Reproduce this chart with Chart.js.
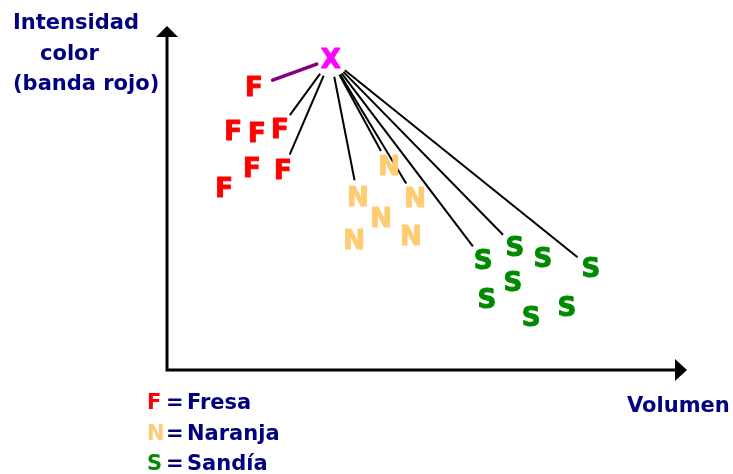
<!DOCTYPE html>
<html>
<head>
<meta charset="utf-8">
<script src="https://cdn.jsdelivr.net/npm/chart.js@4.4.1/dist/chart.umd.min.js"></script>
<style>
  html, body { margin: 0; padding: 0; background: #fff; }
  #wrap { width: 733px; height: 474px; }
</style>
</head>
<body>
<div id="wrap"><canvas id="knn"></canvas></div>
<script>
// ── Data (volumen, intensidad color) ──────────────────────────────────────
const fresaVol     = [16.7, 12.7, 17.3, 21.7, 11.0, 16.3, 22.3]
const fresaInt     = [82.3, 69.5, 68.9, 70.1, 52.9, 58.7, 58.1]
const naranjaVol   = [42.7, 36.7, 47.7, 41.2, 36.0, 46.9]
const naranjaInt   = [59.3, 50.3, 50.0, 44.2, 37.8, 39.0]
const sandiaVol    = [60.8, 66.9, 72.3, 81.5, 66.5, 61.5, 70.0, 76.9]
const sandiaInt    = [32.0, 35.8, 32.6, 29.7, 25.6, 20.6, 15.4, 18.3]
const queryVol     = [31.5]
const queryInt     = [90.4]

// vecinos unidos al punto X (índices dentro de cada serie)
const fresaNear    = [3, 6]
const naranjaNear  = [0, 1, 2]
const sandiaNear   = [0, 1, 3]
const closestFresa = 0

const yTitleLines  = ['Intensidad', 'color', '(banda rojo)']
const xTitle       = 'Volumen'
const legendNames  = ['Fresa', 'Naranja', 'Sandía']
const legendLetters = ['F', 'N', 'S']

const NAVY = '#000080'
const COLORS = { F: '#ff0000', N: '#ffcc73', S: '#008a00', X: '#ff00ff' }
const FONT = '"DejaVu Sans", Verdana, sans-serif'

const toPts = (xs, ys) => xs.map((v, i) => ({ x: v, y: ys[i] }))

// ── Plugin: ejes con flechas, líneas de vecinos, letras y textos ─────────
const knnPlugin = {
  id: 'knn',
  beforeDatasetsDraw(chart) {
    const { ctx, chartArea: a } = chart
    ctx.save()
    // axes
    ctx.strokeStyle = '#000'
    ctx.fillStyle = '#000'
    ctx.lineWidth = 3
    ctx.beginPath()
    ctx.moveTo(a.left, a.top + 10)
    ctx.lineTo(a.left, a.bottom)
    ctx.lineTo(a.right - 10, a.bottom)
    ctx.stroke()
    ctx.beginPath()
    ctx.moveTo(a.left, a.top)
    ctx.lineTo(a.left - 11, a.top + 11)
    ctx.lineTo(a.left + 11, a.top + 11)
    ctx.closePath()
    ctx.fill()
    ctx.beginPath()
    ctx.moveTo(a.right, a.bottom)
    ctx.lineTo(a.right - 12, a.bottom - 11)
    ctx.lineTo(a.right - 12, a.bottom + 11)
    ctx.closePath()
    ctx.fill()

    // neighbour lines
    const q = chart.getDatasetMeta(3).data[0]
    const seg = (el, g0, g1, color, w) => {
      const dx = el.x - q.x, dy = el.y - q.y
      const d = Math.hypot(dx, dy)
      const ux = dx / d, uy = dy / d
      ctx.strokeStyle = color
      ctx.lineWidth = w
      ctx.beginPath()
      ctx.moveTo(q.x + ux * g0, q.y + uy * g0)
      ctx.lineTo(el.x - ux * g1, el.y - uy * g1)
      ctx.stroke()
    }
    const near = [fresaNear, naranjaNear, sandiaNear]
    near.forEach((list, di) => {
      const meta = chart.getDatasetMeta(di)
      list.forEach(i => seg(meta.data[i], 18, 17, '#000', 2))
    })
    ctx.lineCap = 'round'
    seg(chart.getDatasetMeta(0).data[closestFresa], 15, 20, '#800080', 3.5)
    ctx.restore()
  },
  afterDatasetsDraw(chart) {
    const { ctx } = chart
    ctx.save()
    ctx.textAlign = 'center'
    ctx.textBaseline = 'alphabetic'
    ctx.lineJoin = 'round'
    chart.data.datasets.forEach((ds, di) => {
      const size = 26
      ctx.font = `bold ${size}px ${FONT}`
      ctx.fillStyle = COLORS[ds.letter]
      ctx.strokeStyle = COLORS[ds.letter]
      ctx.lineWidth = 1
      chart.getDatasetMeta(di).data.forEach(el => {
        ctx.fillText(ds.letter, el.x, el.y + size * 0.36)
        ctx.strokeText(ds.letter, el.x, el.y + size * 0.36)
      })
    })

    // texts
    ctx.font = `bold 21px ${FONT}`
    ctx.textAlign = 'left'
    ctx.fillStyle = NAVY
    const titleX = [13, 40, 13]
    yTitleLines.forEach((t, i) => ctx.fillText(t, titleX[i], 29 + i * 30.5))
    ctx.fillText(xTitle, 627, 412)
    legendNames.forEach((name, i) => {
      const y = 409 + i * 30.5
      ctx.fillStyle = COLORS[legendLetters[i]]
      ctx.fillText(legendLetters[i], 147, y)
      ctx.fillStyle = NAVY
      ctx.fillText('=', 166, y)
      ctx.fillText(name, 187, y)
    })
    ctx.restore()
  }
}

new Chart(document.getElementById('knn'), {
  type: 'scatter',
  data: {
    datasets: [
      { label: 'Fresa',   letter: 'F', data: toPts(fresaVol, fresaInt) },
      { label: 'Naranja', letter: 'N', data: toPts(naranjaVol, naranjaInt) },
      { label: 'Sandía',  letter: 'S', data: toPts(sandiaVol, sandiaInt) },
      { label: 'X',       letter: 'X', data: toPts(queryVol, queryInt) }
    ]
  },
  options: {
    responsive: true,
    maintainAspectRatio: false,
    animation: false,
    elements: { point: { radius: 0, hoverRadius: 0 } },
    layout: { padding: { left: 167, right: 46, top: 26, bottom: 104 } },
    plugins: { legend: { display: false }, tooltip: { enabled: false } },
    scales: {
      x: { type: 'linear', min: 0, max: 100, display: false },
      y: { type: 'linear', min: 0, max: 100, display: false }
    }
  },
  plugins: [knnPlugin]
})
</script>
</body>
</html>
